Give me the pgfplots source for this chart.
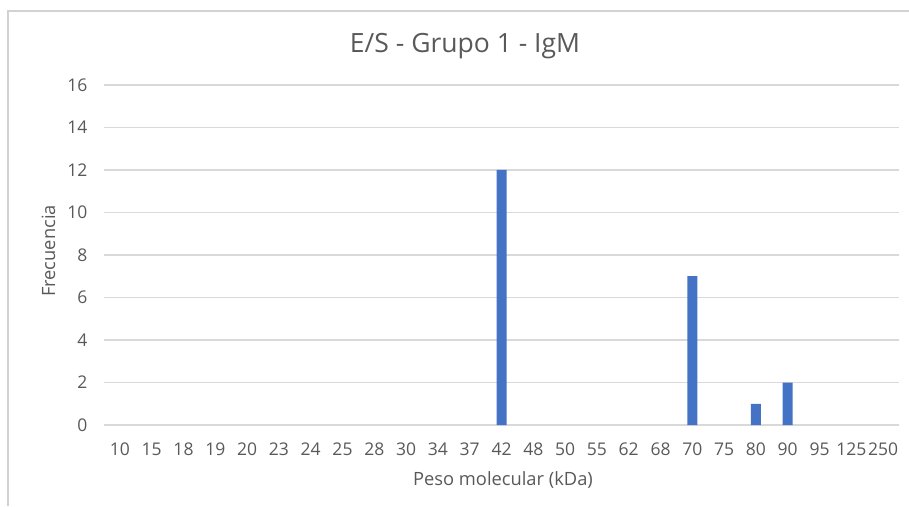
\documentclass[border=0pt]{standalone}
\usepackage{pgfplots}
\pgfplotsset{compat=1.18}
\usepackage{fontspec}
\setmainfont{Open Sans}

\definecolor{barblue}{RGB}{68,114,196}
\definecolor{gridgray}{RGB}{217,217,217}
\definecolor{txtgray}{RGB}{89,89,89}
\definecolor{framegray}{RGB}{210,210,210}

\begin{document}
\begin{tikzpicture}[x=1pt,y=1pt]
  \path[use as bounding box] (0,0) rectangle (909,506);
  % chart frame (left and top edges)
  \draw[framegray, line width=1.3pt] (8,0) -- (8,495) -- (909,495);

  \begin{axis}[
    at={(104pt,81pt)}, anchor=south west,
    scale only axis, width=795pt, height=340pt,
    xmin=-0.5, xmax=24.5, ymin=0, ymax=16,
    ytick={0,2,...,16},
    xtick={0,...,24},
    xticklabels={10,15,18,19,20,23,24,25,28,30,34,37,42,48,50,55,62,68,70,75,80,90,95,125,250},
    axis line style={draw=none},
    major tick length=0pt,
    ymajorgrids,
    grid style={gridgray, line width=1.2pt},
    /pgf/number format/assume math mode=true,
    ticklabel style={font=\fontsize{17.5}{20}\selectfont, text=txtgray},
    yticklabel style={anchor=east, xshift=-13pt},
    xticklabel style={anchor=base, yshift=-30pt},
    clip=false,
  ]
    \addplot[ybar, bar width=10pt, fill=barblue, draw=none]
      coordinates {(12,12) (18,7) (20,1) (21,2)};
  \end{axis}

  \node[anchor=base, text=txtgray, font=\fontsize{26.5}{30}\selectfont] at (465,453) {E/S - Grupo 1 - IgM};
  \node[anchor=base, text=txtgray, font=\fontsize{18.3}{20}\selectfont] at (503,21) {Peso molecular (kDa)};
  \node[anchor=base, rotate=90, text=txtgray, font=\fontsize{18.3}{20}\selectfont] at (55,255) {Frecuencia};
\end{tikzpicture}
\end{document}
